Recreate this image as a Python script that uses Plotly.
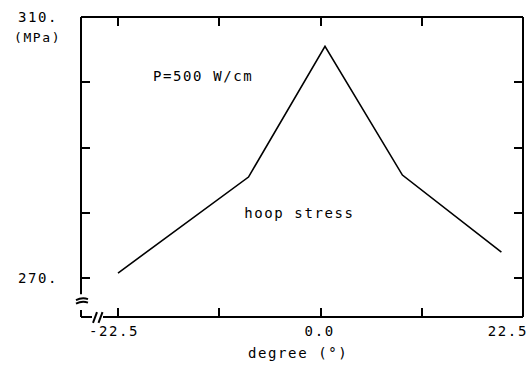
import plotly.graph_objects as go

# Hoop stress vs. circumferential angle, P = 500 W/cm
angle_deg = [-22.5, -8.0, 0.5, 9.1, 20.1]
hoop_mpa = [270.8, 285.5, 305.5, 285.8, 274.0]

x_ticks = [-22.5, -11.25, 0.0, 11.25, 22.5]
x_labels = ["-22.5", "0.0", "22.5"]
x_label_vals = [-22.5, 0.0, 22.5]
x_label_shift = [-4, -1, -15]   # edge label nudged inward so it stays on the page

y_ticks = [270, 280, 290, 300, 310]
y_ticktext = ["270.", "", "", "", "310."]

X_RANGE = [-26.61, 22.5]
Y_RANGE = [264.07, 310.0]

FONT = "DejaVu Sans Mono"
INK = "black"

fig = go.Figure()
fig.add_trace(go.Scatter(
    x=angle_deg, y=hoop_mpa, mode="lines",
    line=dict(color=INK, width=1.6), hoverinfo="skip", showlegend=False,
))

# frame: full top/right edges, broken left and bottom edges near the origin
W_PLOT, H_PLOT = 442.0, 302.0
L0, B0 = 81.0, 317.0


def px(xp):
    return (xp - L0) / W_PLOT


def py(yp):
    return (B0 - yp) / H_PLOT


frame = dict(type="line", xref="paper", yref="paper", line=dict(color=INK, width=2))
shapes = [
    dict(frame, x0=0, x1=1, y0=1, y1=1),
    dict(frame, x0=1, x1=1, y0=0, y1=1),
    dict(frame, x0=0, x1=0, y0=py(294), y1=1),
    dict(frame, x0=0, x1=0, y0=0, y1=py(310)),
    dict(frame, x0=0, x1=px(92), y0=0, y1=0),
    dict(frame, x0=px(103), x1=1, y0=0, y1=0),
]


def wave(x0, y0, x1, y1, bump):
    xm = (x0 + x1) / 2
    return (f"M {px(x0)},{py(y0)} Q {px(xm)},{py(y0 - bump)} {px(x1)},{py(y1)}")


for yy in (299.5, 303.0):
    shapes.append(dict(type="path", xref="paper", yref="paper",
                       path=wave(76, yy + 0.5, 88, yy - 0.5, 3),
                       line=dict(color=INK, width=2)))
for xx in (93.0, 98.5):
    shapes.append(dict(frame, x0=px(xx), x1=px(xx + 4), y0=py(323), y1=py(312),
                       line=dict(color=INK, width=2)))

annotations = []
for lab, val, sh in zip(x_labels, x_label_vals, x_label_shift):
    annotations.append(dict(
        x=val, xref="x", y=0, yref="paper", yshift=-14, xshift=sh,
        text=lab, showarrow=False, xanchor="center", yanchor="middle",
        font=dict(family=FONT, size=14, color=INK),
    ))
annotations += [
    dict(x=px(298), y=py(353), xref="paper", yref="paper", text="degree (°)",
         showarrow=False, xanchor="center", yanchor="middle",
         font=dict(family=FONT, size=14, color=INK)),
    dict(x=px(37), y=py(36), xref="paper", yref="paper", text="(MPa)",
         showarrow=False, xanchor="center", yanchor="middle",
         font=dict(family=FONT, size=13, color=INK)),
    dict(x=-13.0, y=301.0, xref="x", yref="y", text="P=500 W/cm",
         showarrow=False, xanchor="center", yanchor="middle",
         font=dict(family=FONT, size=14, color=INK)),
    dict(x=-2.3, y=280.0, xref="x", yref="y", text="hoop stress",
         showarrow=False, xanchor="center", yanchor="middle",
         font=dict(family=FONT, size=14, color=INK)),
]

fig.update_layout(
    width=532, height=370,
    margin=dict(l=81, r=9, t=15, b=53),
    paper_bgcolor="white", plot_bgcolor="white",
    font=dict(family=FONT, size=14, color=INK),
    shapes=shapes, annotations=annotations,
    xaxis=dict(
        range=X_RANGE, tickvals=x_ticks, ticktext=[""] * len(x_ticks),
        ticks="inside", ticklen=9, tickwidth=1.5, tickcolor=INK,
        mirror="ticks", showline=False, showgrid=False, zeroline=False,
        fixedrange=True,
    ),
    yaxis=dict(
        range=Y_RANGE, tickvals=y_ticks, ticktext=y_ticktext,
        ticks="inside", ticklen=9, tickwidth=1.5, tickcolor=INK,
        mirror="ticks", showline=False, showgrid=False, zeroline=False,
        ticklabelstandoff=22, fixedrange=True,
        tickfont=dict(family=FONT, size=14, color=INK),
    ),
)

# typewriter-style letter spacing for all chart text
spacing_js = (
    "document.querySelectorAll('.main-svg text').forEach(function(t){"
    "t.style.letterSpacing='1.6px';});"
)

fig.write_html("out.html", post_script=spacing_js, config={"displayModeBar": False})
